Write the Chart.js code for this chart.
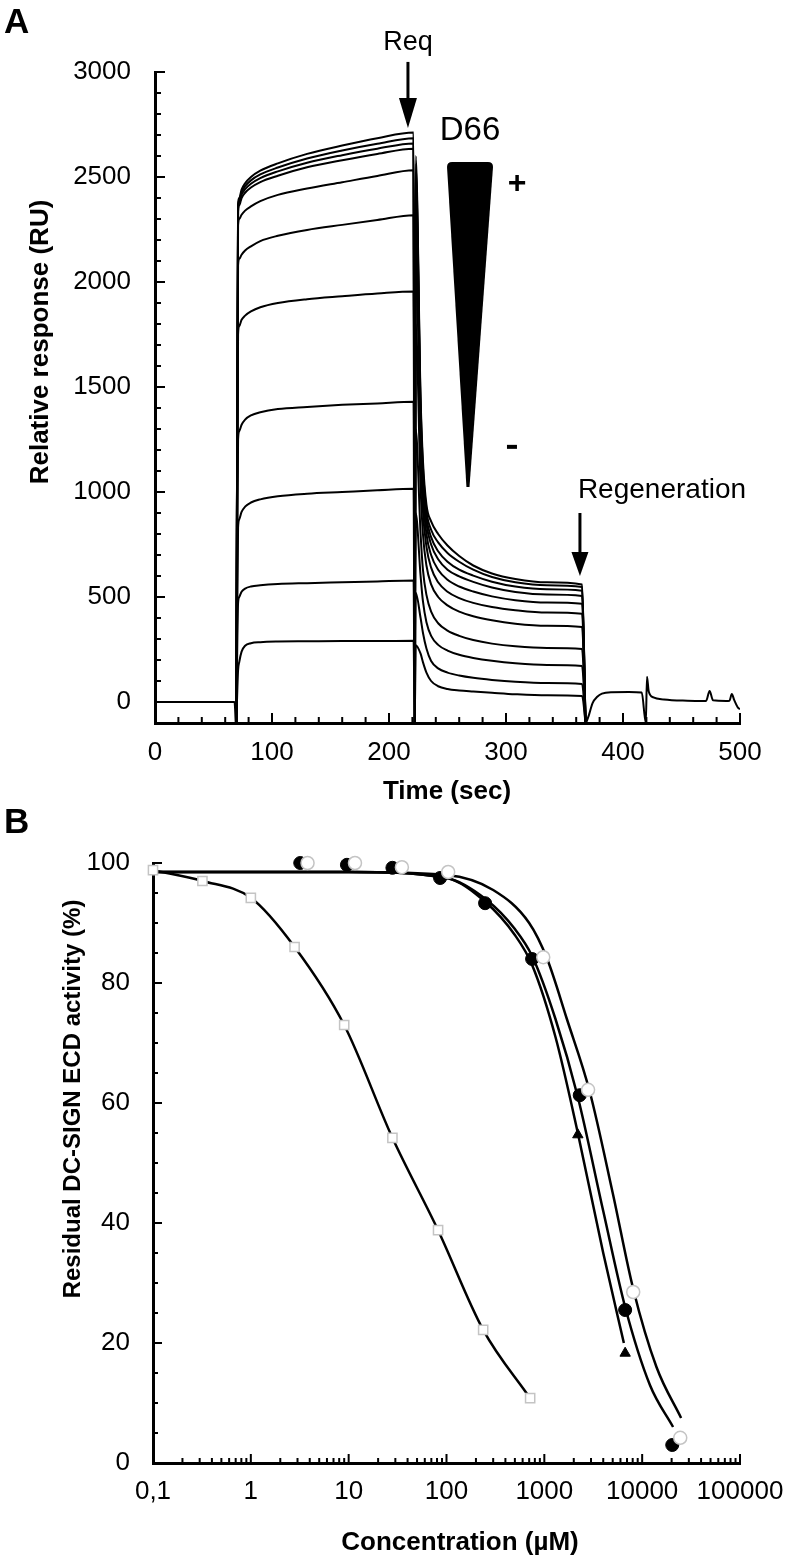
<!DOCTYPE html>
<html>
<head>
<meta charset="utf-8">
<script src="https://cdn.jsdelivr.net/npm/chart.js@4.4.1/dist/chart.umd.min.js"></script>
<style>
  body { margin: 0; width: 792px; height: 1560px; background: #fff; position: relative; overflow: hidden; }
  canvas { position: absolute; left: 0; }
  #chartA { top: 0; }
  #chartB { top: 812px; }
  .panel { position: absolute; left: 4px; font: bold 35px/35px "Liberation Sans", Arial, sans-serif; color: #000; }
</style>
</head>
<body>
<canvas id="chartA" width="792" height="812"></canvas>
<canvas id="chartB" width="792" height="748"></canvas>
<div class="panel" style="top:3px">A</div>
<div class="panel" style="top:803px">B</div>
<script>
// ---------- panel A : sensorgrams (time in s, response in RU) ----------
const baselineTime = [0, 68, 69];
const baselineRU = [0, 0, -100];

const assocTime = [69.5, 71, 72, 74, 77, 82, 90, 105, 130, 160, 190, 221];
const assocRU = [
  [-100, 2370, 2400, 2440, 2470, 2500, 2530, 2565, 2610, 2650, 2685, 2712],
  [-100, 2360, 2390, 2428, 2456, 2484, 2512, 2545, 2588, 2626, 2658, 2685],
  [-100, 2350, 2380, 2416, 2442, 2468, 2495, 2527, 2568, 2604, 2635, 2660],
  [-100, 2335, 2365, 2400, 2425, 2450, 2476, 2506, 2546, 2580, 2610, 2635],
  [-100, 2270, 2300, 2320, 2340, 2360, 2385, 2415, 2445, 2475, 2505, 2532],
  [-100, 2080, 2110, 2130, 2150, 2170, 2195, 2220, 2248, 2272, 2295, 2318],
  [-100, 1750, 1790, 1820, 1840, 1860, 1880, 1900, 1918, 1932, 1945, 1955],
  [-100, 1250, 1290, 1320, 1345, 1365, 1380, 1395, 1405, 1415, 1422, 1430],
  [-100, 830, 870, 905, 930, 950, 965, 980, 992, 1000, 1008, 1015],
  [-100, 470, 500, 525, 540, 550, 556, 562, 566, 570, 574, 578],
  [-100, 150, 190, 240, 268, 280, 285, 288, 289, 290, 290, 292],
];

const dissocTime = [222, 222.8, 227, 229, 232, 236, 242, 250, 260, 272, 288, 308, 335, 365, 368];
const dissocRU = [
  [-100, 2600, 1450, 1150, 940, 860, 800, 745, 695, 650, 612, 586, 570, 560, -100],
  [-100, 2560, 1420, 1120, 910, 820, 760, 710, 668, 630, 595, 570, 556, 548, -100],
  [-100, 2520, 1380, 1080, 880, 785, 718, 668, 630, 602, 573, 550, 537, 530, -100],
  [-100, 2480, 1340, 1040, 850, 750, 680, 630, 598, 572, 545, 524, 512, 505, -100],
  [-100, 2380, 1280, 990, 800, 700, 630, 582, 550, 526, 503, 485, 474, 468, -100],
  [-100, 2150, 1180, 910, 740, 640, 570, 525, 495, 472, 452, 437, 426, 420, -100],
  [-100, 1800, 1020, 800, 650, 560, 500, 460, 430, 408, 389, 373, 363, 357, -100],
  [-100, 1300, 800, 630, 510, 430, 375, 340, 315, 295, 278, 265, 257, 252, -100],
  [-100, 900, 600, 480, 380, 315, 272, 245, 225, 210, 196, 184, 176, 171, -100],
  [-100, 520, 400, 330, 255, 195, 160, 140, 126, 115, 105, 96, 90, 86, -100],
  [-100, 270, 230, 190, 140, 100, 75, 62, 55, 50, 44, 37, 32, 29, -100],
];

const regenTime = [368.5, 371, 374, 378, 382, 390, 405, 416, 419.5, 420.5, 422, 426, 435, 455, 471, 474, 477, 488, 491, 493, 495, 498, 500];
const regenRU = [-100, -60, -5, 25, 40, 47, 48, 45, -100, 120, 50, 22, 12, 6, 5, 52, 8, 5, 6, 38, 10, -25, -35];

const timeTicks = [0, 100, 200, 300, 400, 500];
const ruTicks = [0, 500, 1000, 1500, 2000, 2500, 3000];

// ---------- panel B : inhibition curves (concentration in µM, activity in %) ----------
const concTicks = [0.1, 1, 10, 100, 1000, 10000, 100000];
const activityTicks = [0, 20, 40, 60, 80, 100];

const squareConc = [0.1, 0.32, 1, 2.8, 9, 28, 82, 237, 716];
const squareAct = [98.8, 97, 94.2, 86, 73, 54.2, 38.8, 22.2, 10.8];

const filledConc = [3.2, 9.6, 28, 86, 248, 750, 2300, 6700, 20300];
const filledAct = [100, 99.7, 99.2, 97.5, 93.3, 84, 61.3, 25.5, 3];

const openConc = [3.8, 11.6, 35, 104, 975, 2800, 8100, 24500];
const openAct = [100, 100, 99.3, 98.5, 84.3, 62.2, 28.5, 4.2];

const triangleConc = [2200, 6700];
const triangleAct = [54.7, 18.3];

const fitOpenConc = [0.1, 10, 100, 300, 700, 1070, 1700, 2900, 5000, 8100, 14000, 25000];
const fitOpenAct = [98.5, 98.5, 98, 95.5, 90, 84, 74, 62, 45, 29, 16, 7.5];
const fitFilledConc = [0.1, 10, 100, 250, 500, 750, 1300, 2200, 4000, 6700, 12000, 20700];
const fitFilledAct = [98.5, 98.5, 97.5, 94, 89, 84.5, 74, 61, 42, 26, 13, 6];
const fitTriangleConc = [0.1, 10, 100, 250, 500, 750, 1300, 2200, 4000, 6500];
const fitTriangleAct = [98.5, 98.5, 97.5, 93.5, 88, 83, 71, 55, 35, 20];

const fontFamily = '"Liberation Sans", Arial, Helvetica, sans-serif';
const pairs = (xs, ys) => xs.map((v, i) => ({ x: v, y: ys[i] }));

// ticks on the inside of the axes
const innerTicks = {
  id: 'innerTicks',
  afterDraw(chart, args, opts) {
    const { ctx, chartArea: area, scales: { x, y } } = chart;
    ctx.save();
    ctx.strokeStyle = '#000';
    ctx.lineWidth = 2;
    ctx.beginPath();
    opts.x.forEach(([v, len]) => {
      const p = x.getPixelForValue(v);
      ctx.moveTo(p, area.bottom);
      ctx.lineTo(p, area.bottom - len);
    });
    opts.y.forEach(([v, len]) => {
      const p = y.getPixelForValue(v);
      ctx.moveTo(area.left, p);
      ctx.lineTo(area.left + len, p);
    });
    ctx.stroke();
    ctx.restore();
  }
};

// axis titles placed like in the figure
const axisTitles = {
  id: 'axisTitles',
  afterDraw(chart, args, opts) {
    const ctx = chart.ctx;
    opts.items.forEach(item => {
      ctx.save();
      ctx.font = item.font;
      ctx.fillStyle = '#000';
      ctx.textAlign = 'center';
      ctx.textBaseline = 'alphabetic';
      ctx.translate(item.x, item.y);
      if (item.vertical) ctx.rotate(-Math.PI / 2);
      ctx.fillText(item.text, 0, 0);
      ctx.restore();
    });
  }
};

// Req / D66 wedge / Regeneration marks of panel A
const sensorNotes = {
  id: 'sensorNotes',
  afterDraw(chart) {
    const { ctx, scales: { x, y } } = chart;
    const px = v => x.getPixelForValue(v);
    const py = v => y.getPixelForValue(v);
    const arrow = (t, top, headTop, tip, half) => {
      ctx.beginPath();
      ctx.lineWidth = 3;
      ctx.moveTo(px(t), py(top));
      ctx.lineTo(px(t), py(headTop) + 2);
      ctx.stroke();
      ctx.beginPath();
      ctx.moveTo(px(t) - half, py(headTop));
      ctx.lineTo(px(t) + half, py(headTop));
      ctx.lineTo(px(t), py(tip));
      ctx.closePath();
      ctx.fill();
    };
    ctx.save();
    ctx.fillStyle = '#000';
    ctx.strokeStyle = '#000';
    ctx.textAlign = 'center';
    ctx.textBaseline = 'alphabetic';

    ctx.font = '27px ' + fontFamily;
    ctx.fillText('Req', px(216.2), py(3105));
    arrow(216.2, 3048, 2876, 2733, 9);

    ctx.font = '33px ' + fontFamily;
    ctx.fillText('D66', px(269.2), py(2676));

    // concentration wedge
    const l = px(249.6), r = px(288.9), top = py(2571);
    ctx.beginPath();
    ctx.moveTo(l, top + 5);
    ctx.quadraticCurveTo(l, top, l + 5, top);
    ctx.lineTo(r - 5, top);
    ctx.quadraticCurveTo(r, top, r, top + 5);
    ctx.lineTo(px(268.8), py(1024));
    ctx.lineTo(px(266.2), py(1024));
    ctx.closePath();
    ctx.fill();

    ctx.font = 'bold 32px ' + fontFamily;
    ctx.fillText('+', px(309.4), py(2424));
    ctx.fillRect(px(305.1) - 5, py(1215) - 2, 10, 4);

    ctx.font = '28px ' + fontFamily;
    ctx.fillText('Regeneration', px(433.3), py(971));
    arrow(363.2, 900, 714, 600, 8.5);
    ctx.restore();
  }
};

// ---------------- chart A ----------------
const lineA = {
  borderColor: '#000',
  borderWidth: 2,
  pointRadius: 0,
  fill: false,
  cubicInterpolationMode: 'monotone'
};

const sensorSets = assocRU.map((_, i) => ({
  ...lineA,
  data: pairs(assocTime, assocRU[i]).concat(pairs(dissocTime, dissocRU[i]))
}));
sensorSets.push({ ...lineA, data: pairs(baselineTime, baselineRU) });
sensorSets.push({ ...lineA, data: pairs(regenTime, regenRU) });

const ticksA = { x: [], y: [] };
for (let t = 0; t <= 500; t += 20) ticksA.x.push([t, t % 100 === 0 ? 10 : 6]);
for (let v = 0; v <= 3000; v += 100) ticksA.y.push([v, v % 500 === 0 ? 10 : 6]);

new Chart(document.getElementById('chartA'), {
  type: 'line',
  data: { datasets: sensorSets },
  plugins: [innerTicks, axisTitles, sensorNotes],
  options: {
    responsive: false,
    animation: false,
    layout: { padding: { left: 0, right: 52, top: 72, bottom: 0 } },
    plugins: {
      legend: { display: false },
      tooltip: { enabled: false },
      innerTicks: ticksA,
      axisTitles: {
        items: [
          { text: 'Relative response (RU)', x: 48, y: 342, vertical: true, font: 'bold 26px ' + fontFamily },
          { text: 'Time (sec)', x: 447, y: 799, font: 'bold 26px ' + fontFamily }
        ]
      }
    },
    scales: {
      x: {
        type: 'linear',
        min: 0,
        max: 500,
        afterFit: s => { s.height = 89; },
        afterBuildTicks: s => { s.ticks = timeTicks.map(v => ({ value: v })); },
        grid: { display: false },
        border: { display: true, color: '#000', width: 3 },
        ticks: { color: '#000', padding: 6, maxRotation: 0, autoSkip: false, font: { family: fontFamily, size: 26 }, callback: v => String(v) }
      },
      y: {
        type: 'linear',
        min: -100,
        max: 3000,
        afterFit: s => { s.width = 155; },
        afterBuildTicks: s => { s.ticks = ruTicks.map(v => ({ value: v })); },
        grid: { display: false },
        border: { display: true, color: '#000', width: 3 },
        ticks: { color: '#000', padding: 16, autoSkip: false, font: { family: fontFamily, size: 26 }, callback: v => String(v) }
      }
    }
  }
});

// ---------------- chart B ----------------
const fitLine = {
  borderColor: '#000',
  borderWidth: 2.5,
  pointRadius: 0,
  fill: false,
  cubicInterpolationMode: 'monotone'
};

const inhibitionSets = [
  { data: pairs(triangleConc, triangleAct), clip: false, showLine: false, pointStyle: 'triangle', pointRadius: 6, pointBackgroundColor: '#000', pointBorderColor: '#000' },
  { data: pairs(openConc, openAct), clip: false, showLine: false, pointStyle: 'circle', pointRadius: 6.5, pointBackgroundColor: '#fff', pointBorderColor: '#c4c4c4', pointBorderWidth: 1.5 },
  { data: pairs(filledConc, filledAct), clip: false, showLine: false, pointStyle: 'circle', pointRadius: 6.5, pointBackgroundColor: '#000', pointBorderColor: '#000' },
  { ...fitLine, data: pairs(squareConc, squareAct), clip: false, pointStyle: 'rect', pointRadius: 6.5, pointBackgroundColor: '#fff', pointBorderColor: '#c4c4c4', pointBorderWidth: 1.5 },
  { ...fitLine, data: pairs(fitOpenConc, fitOpenAct) },
  { ...fitLine, data: pairs(fitFilledConc, fitFilledAct) },
  { ...fitLine, data: pairs(fitTriangleConc, fitTriangleAct) }
];

const ticksB = { x: [], y: [] };
for (let d = 0.1; d < 100000; d *= 10) {
  ticksB.x.push([d, 9]);
  for (let k = 2; k <= 9; k++) ticksB.x.push([k * d, 5]);
}
ticksB.x.push([100000, 9]);
for (let v = 0; v <= 100; v += 5) ticksB.y.push([v, v % 20 === 0 ? 9 : 5]);

new Chart(document.getElementById('chartB'), {
  type: 'line',
  data: { datasets: inhibitionSets },
  plugins: [innerTicks, axisTitles],
  options: {
    responsive: false,
    animation: false,
    layout: { padding: { left: 0, right: 52, top: 51, bottom: 0 } },
    plugins: {
      legend: { display: false },
      tooltip: { enabled: false },
      innerTicks: ticksB,
      axisTitles: {
        items: [
          { text: 'Residual DC-SIGN ECD activity (%)', x: 80, y: 287, vertical: true, font: 'bold 24px ' + fontFamily },
          { text: 'Concentration (\u00b5M)', x: 460, y: 738, font: 'bold 26px ' + fontFamily }
        ]
      }
    },
    scales: {
      x: {
        type: 'logarithmic',
        min: 0.1,
        max: 100000,
        afterFit: s => { s.height = 97; },
        afterBuildTicks: s => { s.ticks = concTicks.map(v => ({ value: v })); },
        grid: { display: false },
        border: { display: true, color: '#000', width: 3 },
        ticks: { color: '#000', padding: 5, maxRotation: 0, autoSkip: false, font: { family: fontFamily, size: 26 },
          callback: v => (v === 0.1 ? '0,1' : String(v)) }
      },
      y: {
        type: 'linear',
        min: 0,
        max: 100,
        afterFit: s => { s.width = 153; },
        afterBuildTicks: s => { s.ticks = activityTicks.map(v => ({ value: v })); },
        grid: { display: false },
        border: { display: true, color: '#000', width: 3 },
        ticks: { color: '#000', padding: 15, autoSkip: false, font: { family: fontFamily, size: 26 }, callback: v => String(v) }
      }
    }
  }
});
</script>
</body>
</html>
